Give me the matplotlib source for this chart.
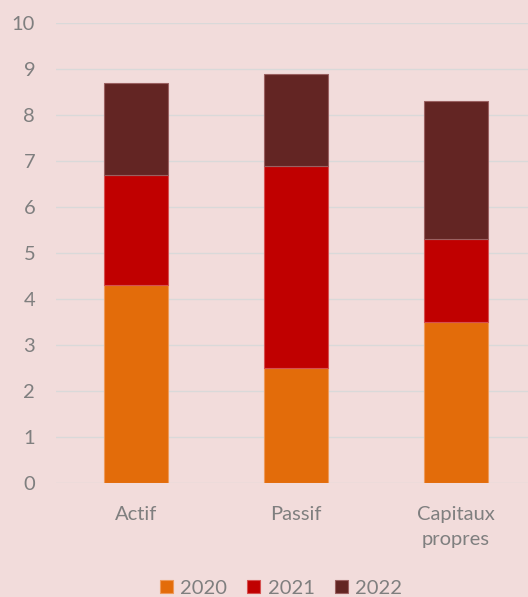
import matplotlib.pyplot as plt
import numpy as np

# Categories and stacked values per year
categories = ['Actif', 'Passif', 'Capitaux\npropres']
years = ['2020', '2021', '2022']
v2020 = [4.3, 2.5, 3.5]
v2021 = [2.4, 4.4, 1.8]
v2022 = [2.0, 2.0, 3.0]

colors = ['#E36C0A', '#C00000', '#632523']
edges = ['#EE9A5A', '#D65050', '#9A6060']
bg = '#F2DCDB'
txt = '#7F7F7F'

plt.rcParams['font.family'] = ['Lato', 'DejaVu Sans']

fig = plt.figure(figsize=(5.28, 5.97), dpi=100, facecolor=bg)
ax = fig.add_axes([56 / 528, 1 - 483 / 597, 1 - 56 / 528, (483 - 23) / 597])
ax.set_facecolor(bg)

x = np.arange(len(categories))
width = 0.4
bottom = np.zeros(len(categories))
for label, vals, c, e in zip(years, [v2020, v2021, v2022], colors, edges):
    ax.bar(x, vals, width, bottom=bottom, color=c, edgecolor=e,
           linewidth=0.8, label=label, zorder=3)
    bottom += np.array(vals)

ax.set_ylim(0, 10)
ax.set_xlim(-0.5, 2.45)
ax.set_yticks(range(0, 11))
ax.set_xticks(x)
ax.set_xticklabels(categories, fontsize=14.5, color=txt, linespacing=1.6)
ax.tick_params(axis='y', length=0, pad=15, labelsize=14.5, labelcolor=txt)
ax.tick_params(axis='x', length=0, pad=16.5)
ax.yaxis.grid(True, color='#D9D9D9', linewidth=1.0, zorder=0)
for s in ax.spines.values():
    s.set_visible(False)

fig.legend(loc='lower center', bbox_to_anchor=(0.532, -0.03), ncol=3,
           frameon=False, fontsize=14.5, labelcolor=txt, handlelength=0.65,
           handleheight=0.65, handletextpad=0.35, columnspacing=1.0)

fig.savefig('out.png', dpi=100, facecolor=bg)
